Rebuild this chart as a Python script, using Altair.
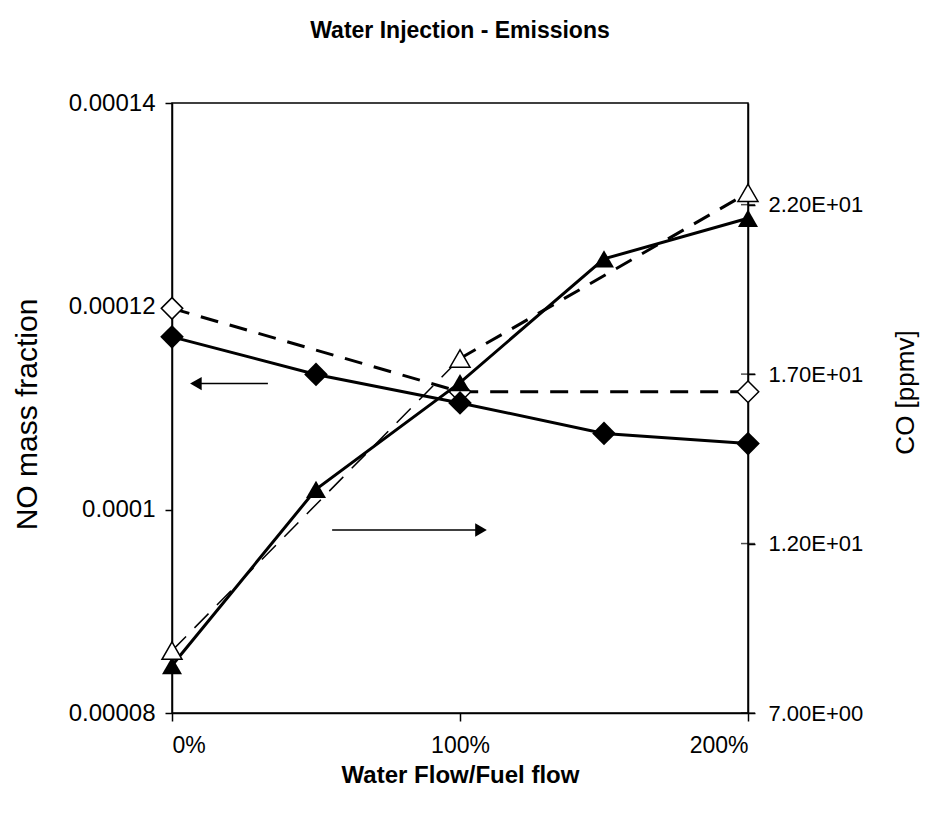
import altair as alt
import pandas as pd

# ---- data ----
x_all = [0, 50, 100, 150, 200]          # Water Flow / Fuel flow [%]
x_three = [0, 100, 200]
no_solid = [0.0001170, 0.0001133, 0.0001105, 0.0001075, 0.0001065]   # filled diamonds
no_dashed = [0.0001198, 0.0001116, 0.0001116]                         # open diamonds
co_solid = [8.4, 13.6, 16.75, 20.4, 21.6]                             # filled triangles
co_dashed = [8.84, 17.46, 22.35]                                      # open triangles

left_ticks = [0.00008, 0.0001, 0.00012, 0.00014]
right_ticks = [7, 12, 17, 22]
x_ticks = [0, 100, 200]

# annotation arrows: start x, end x (head), y on NO axis
arrow_x_start = [33.3, 55.6]
arrow_x_end = [8.3, 107.3]
arrow_y = [0.0001124, 0.0000980]
arrow_shape = ["triangle-left", "triangle-right"]

FONT = "Liberation Sans"

df_no_solid = pd.DataFrame({"x": x_all, "v": no_solid})
df_no_dashed = pd.DataFrame({"x": x_three, "v": no_dashed})
df_co_solid = pd.DataFrame({"x": x_all, "v": co_solid})
df_co_dashed_a = pd.DataFrame({"x": x_three[:2], "v": co_dashed[:2]})
df_co_dashed_b = pd.DataFrame({"x": x_three[1:], "v": co_dashed[1:]})
df_co_open = pd.DataFrame({"x": x_three, "v": co_dashed})
df_arrows = pd.DataFrame({"x": arrow_x_end, "x2": arrow_x_start, "v": arrow_y, "shape": arrow_shape})
df_rticks = pd.DataFrame({"x": [200] * len(right_ticks), "v": right_ticks})

X = alt.X(
    "x:Q",
    scale=alt.Scale(domain=[0, 200], nice=False, zero=False),
    axis=alt.Axis(
        values=x_ticks, labelExpr="datum.value + '%'", title="Water Flow/Fuel flow",
        titleFontWeight="bold", titleFontSize=24, titleFont=FONT, titleY=62,
        titleBaseline="middle", labelPadding=13, tickSize=8, labelFontSize=23,
    ),
)

Y_NO = alt.Y(
    "v:Q",
    scale=alt.Scale(domain=[0.00008, 0.00014], nice=False, zero=False),
    axis=alt.Axis(
        values=left_ticks, format="~g", title="NO mass fraction", orient="left",
        titleFontWeight="normal", titleFontSize=30, titleFont=FONT,
        titleX=-145, titleY=311, titleBaseline="middle", titleAngle=270,
        tickSize=7, labelPadding=10, labelFontSize=24,
    ),
)

Y_CO = alt.Y(
    "v:Q",
    scale=alt.Scale(domain=[7, 25], nice=False, zero=False),
    axis=alt.Axis(
        values=right_ticks, labelExpr="replace(format(datum.value, '.2e'), 'e+', 'E+0')",
        title="CO [ppmv]", orient="right",
        titleFontWeight="normal", titleFontSize=26, titleFont=FONT,
        titleX=157, titleY=289, titleBaseline="middle", titleAngle=270,
        tickSize=7, labelPadding=13, labelFontSize=22,
    ),
)

# ---- NO layer (left axis) ----
no_dash_line = alt.Chart(df_no_dashed).mark_line(color="black", strokeWidth=3, strokeDash=[18, 12]).encode(x=X, y=Y_NO)
no_dash_pts = alt.Chart(df_no_dashed).mark_point(shape="diamond", filled=True, fill="white", stroke="black",
                                                  strokeWidth=1.5, size=460, opacity=1).encode(x=X, y=Y_NO)
no_solid_line = alt.Chart(df_no_solid).mark_line(color="black", strokeWidth=3).encode(x=X, y=Y_NO)
no_solid_pts = alt.Chart(df_no_solid).mark_point(shape="diamond", filled=True, color="black",
                                                  size=560, opacity=1).encode(x=X, y=Y_NO)
arrow_lines = alt.Chart(df_arrows).mark_rule(color="black", strokeWidth=1.5).encode(x=X, x2="x2:Q", y=Y_NO)
arrow_heads = alt.Chart(df_arrows).mark_point(filled=True, color="black", size=180, opacity=1).encode(
    x=X, y=Y_NO, shape=alt.Shape("shape:N", scale=None, legend=None))

no_layer = alt.layer(no_dash_line, no_dash_pts, no_solid_line, no_solid_pts, arrow_lines, arrow_heads)

# ---- CO layer (right axis) ----
co_dash_thin = alt.Chart(df_co_dashed_a).mark_line(color="black", strokeWidth=1.5, strokeDash=[20, 12]).encode(x=X, y=Y_CO)
co_dash_thick = alt.Chart(df_co_dashed_b).mark_line(color="black", strokeWidth=3, strokeDash=[18, 12]).encode(x=X, y=Y_CO)
co_solid_line = alt.Chart(df_co_solid).mark_line(color="black", strokeWidth=3).encode(x=X, y=Y_CO)
co_solid_pts = alt.Chart(df_co_solid).mark_point(shape="triangle-up", filled=True, color="black",
                                                  size=400, opacity=1).encode(x=X, y=Y_CO)
co_open_pts = alt.Chart(df_co_open).mark_point(shape="triangle-up", filled=True, fill="white", stroke="black",
                                                strokeWidth=1.5, size=400, opacity=1).encode(x=X, y=Y_CO)
co_cross_ticks = alt.Chart(df_rticks).mark_tick(color="black", orient="horizontal", size=14, thickness=1.5).encode(x=X, y=Y_CO)

co_layer = alt.layer(co_dash_thin, co_dash_thick, co_solid_line, co_solid_pts, co_open_pts, co_cross_ticks)

chart = (
    alt.layer(no_layer, co_layer)
    .resolve_scale(y="independent")
    .properties(
        width=576,
        height=610,
        title=alt.TitleParams(
            "Water Injection - Emissions", font=FONT, fontSize=23, fontWeight="bold",
            anchor="middle", frame="group", offset=48, color="black",
        ),
        autosize=alt.AutoSizeParams(type="none"),
        padding={"left": 164, "top": 95, "right": 174, "bottom": 92},
        background="white",
    )
    .configure_view(stroke="black", strokeWidth=1.5)
    .configure_axis(
        grid=False, domainColor="black", domainWidth=1.5, tickColor="black", tickWidth=1.5,
        labelColor="black", labelFont=FONT, titleColor="black",
    )
)

chart.save("out.html", embed_options={"renderer": "svg", "actions": False})
